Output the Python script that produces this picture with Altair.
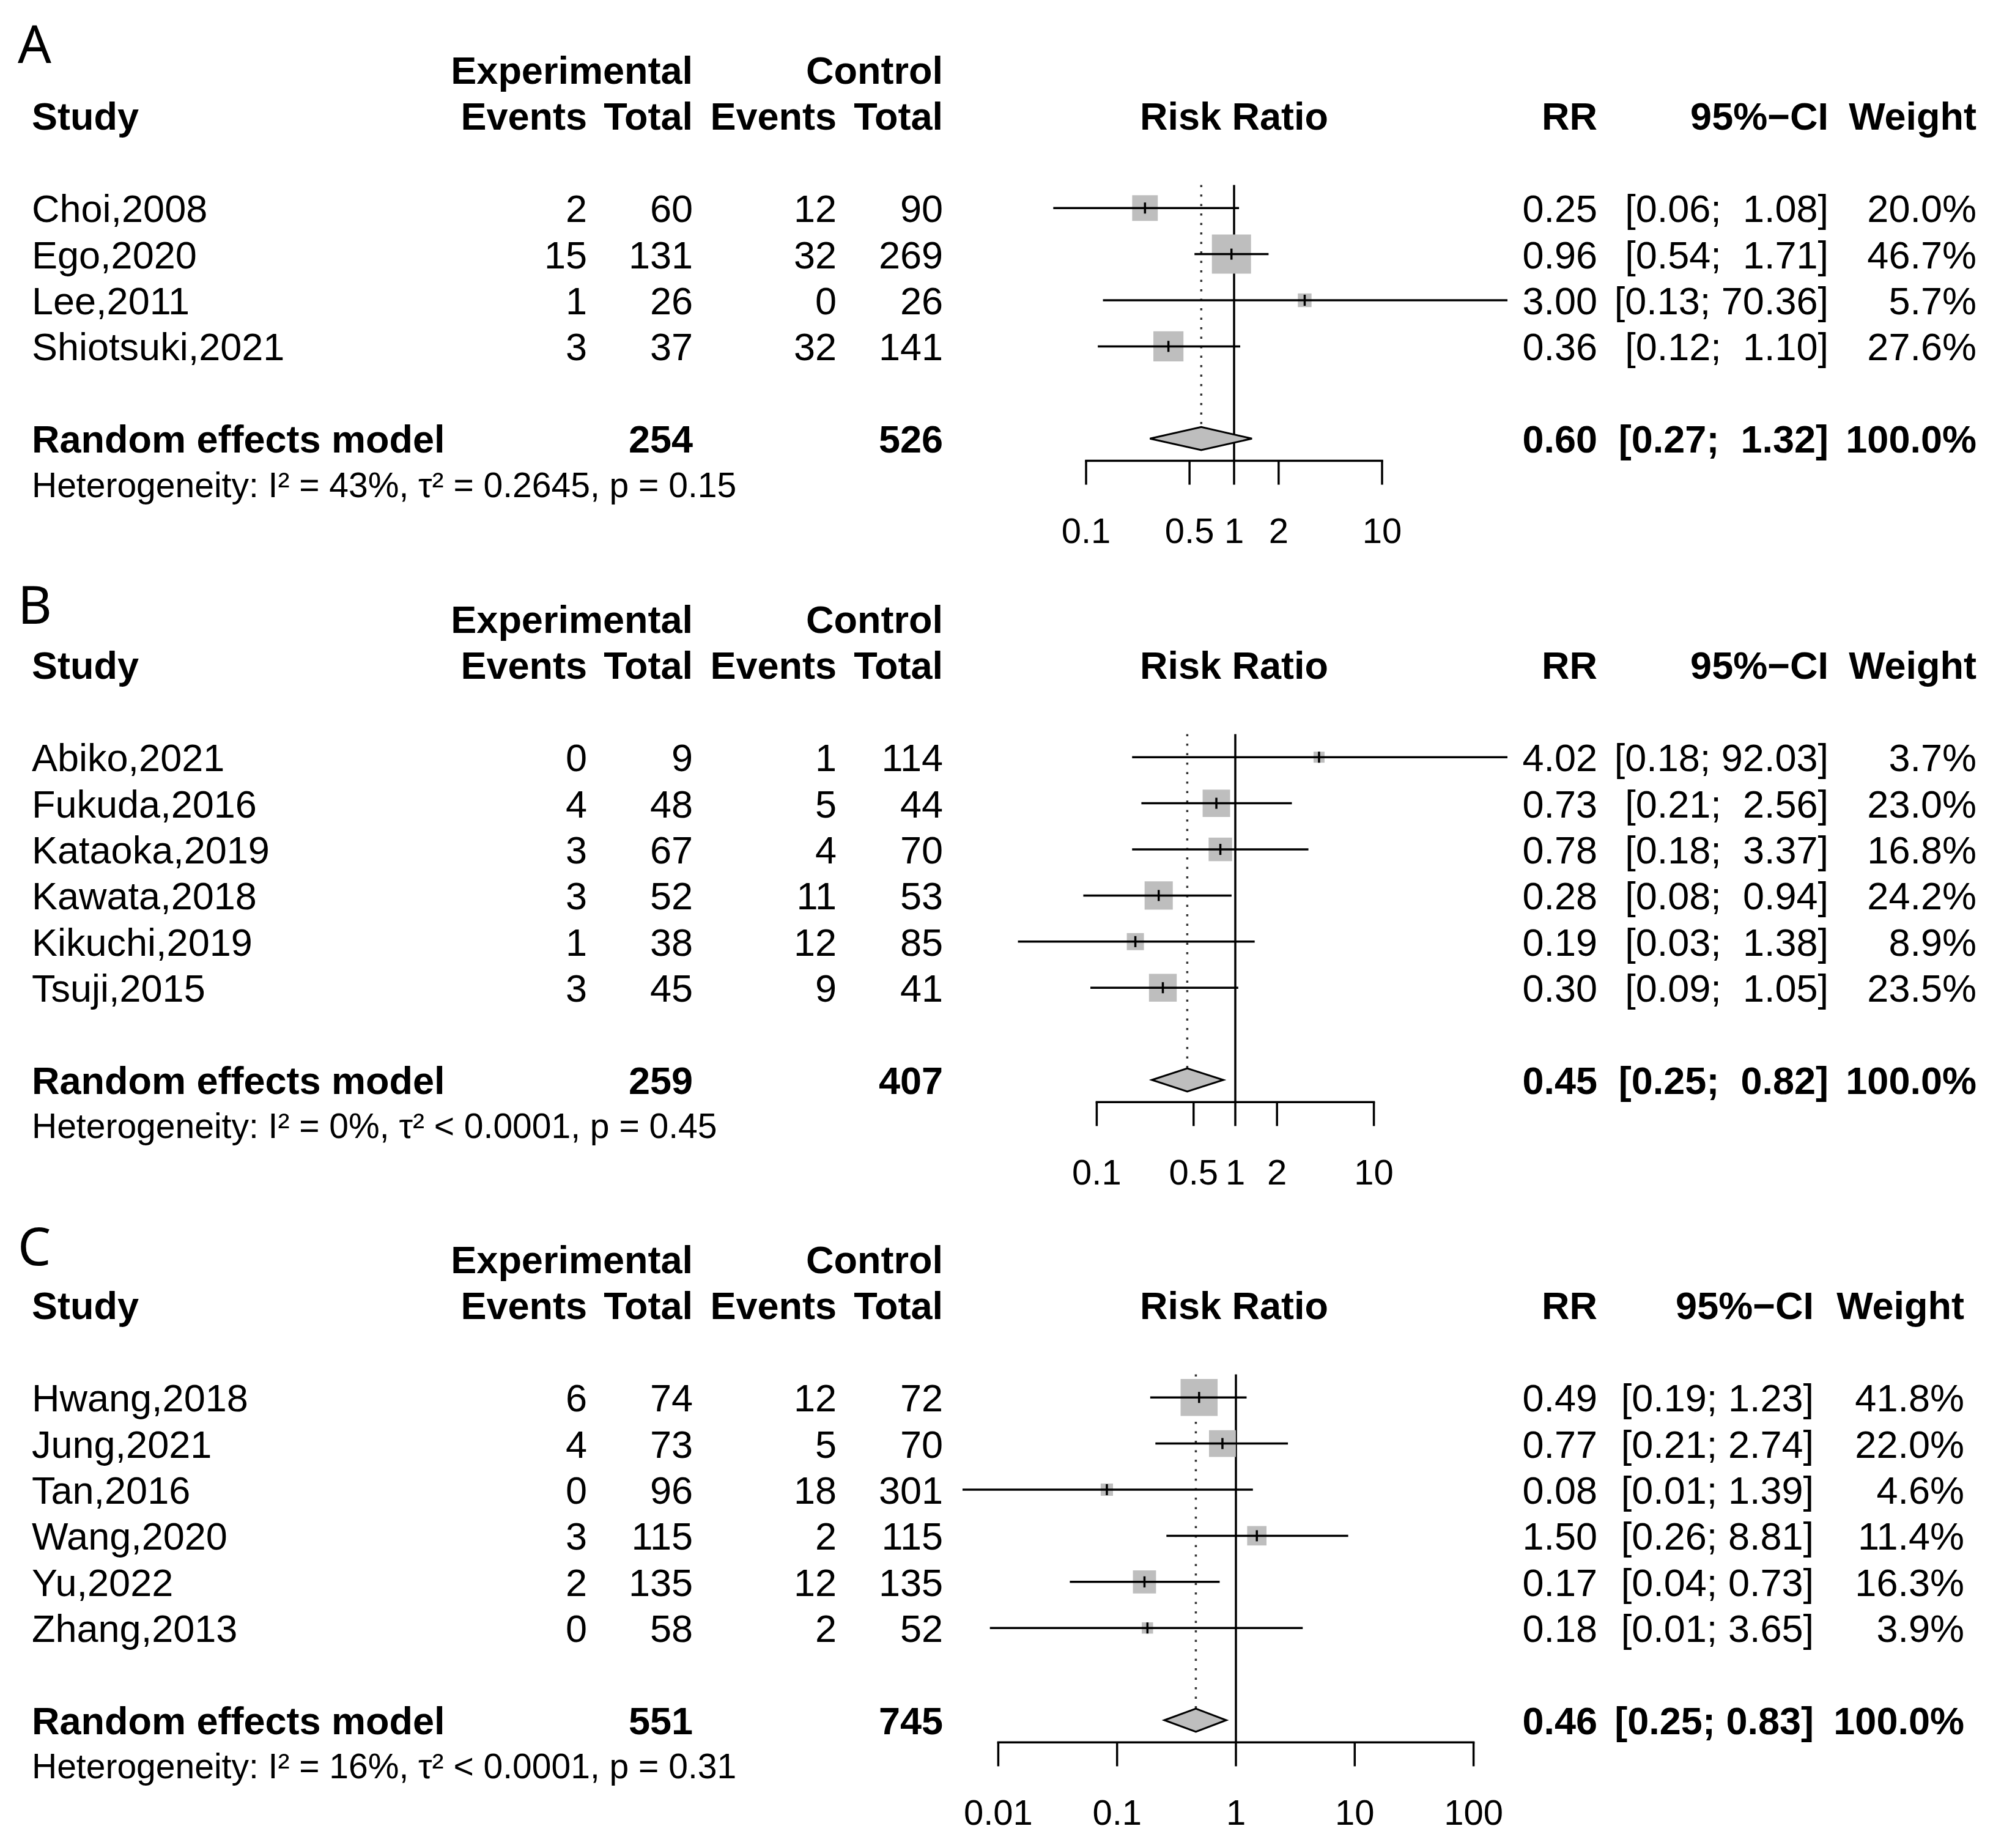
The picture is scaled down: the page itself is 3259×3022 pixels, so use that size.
import altair as alt
import pandas as pd

FONT = "Liberation Sans"
LABEL_FONT = "Noto Sans"

# ---------------- Panel A data ----------------
A_study = ["Choi,2008", "Ego,2020", "Lee,2011", "Shiotsuki,2021"]
A_exp_events = [2, 15, 1, 3]
A_exp_total = [60, 131, 26, 37]
A_ctl_events = [12, 32, 0, 32]
A_ctl_total = [90, 269, 26, 141]
A_rr = [0.25, 0.96, 3.00, 0.36]
A_lo = [0.06, 0.54, 0.13, 0.12]
A_hi = [1.08, 1.71, 70.36, 1.10]
A_weight = [20.0, 46.7, 5.7, 27.6]
A_rr_txt = ["0.25", "0.96", "3.00", "0.36"]
A_ci_txt = ["[0.06;  1.08]", "[0.54;  1.71]", "[0.13; 70.36]", "[0.12;  1.10]"]
A_w_txt = ["20.0%", "46.7%", "5.7%", "27.6%"]
A_totals = ["254", "526"]
A_summary = [0.60, 0.27, 1.32]
A_summary_txt = ["0.60", "[0.27;  1.32]", "100.0%"]
A_het = "Heterogeneity: I² = 43%, τ² = 0.2645, p = 0.15"
A_ticks = [0.1, 0.5, 1, 2, 10]
A_tick_labels = ["0.1", "0.5", "1", "2", "10"]

# ---------------- Panel B data ----------------
B_study = ["Abiko,2021", "Fukuda,2016", "Kataoka,2019", "Kawata,2018", "Kikuchi,2019", "Tsuji,2015"]
B_exp_events = [0, 4, 3, 3, 1, 3]
B_exp_total = [9, 48, 67, 52, 38, 45]
B_ctl_events = [1, 5, 4, 11, 12, 9]
B_ctl_total = [114, 44, 70, 53, 85, 41]
B_rr = [4.02, 0.73, 0.78, 0.28, 0.19, 0.30]
B_lo = [0.18, 0.21, 0.18, 0.08, 0.027, 0.09]
B_hi = [92.03, 2.56, 3.37, 0.94, 1.38, 1.05]
B_weight = [3.7, 23.0, 16.8, 24.2, 8.9, 23.5]
B_rr_txt = ["4.02", "0.73", "0.78", "0.28", "0.19", "0.30"]
B_ci_txt = ["[0.18; 92.03]", "[0.21;  2.56]", "[0.18;  3.37]", "[0.08;  0.94]", "[0.03;  1.38]", "[0.09;  1.05]"]
B_w_txt = ["3.7%", "23.0%", "16.8%", "24.2%", "8.9%", "23.5%"]
B_totals = ["259", "407"]
B_summary = [0.45, 0.25, 0.82]
B_summary_txt = ["0.45", "[0.25;  0.82]", "100.0%"]
B_het = "Heterogeneity: I² = 0%, τ² < 0.0001, p = 0.45"
B_ticks = [0.1, 0.5, 1, 2, 10]
B_tick_labels = ["0.1", "0.5", "1", "2", "10"]

# ---------------- Panel C data ----------------
C_study = ["Hwang,2018", "Jung,2021", "Tan,2016", "Wang,2020", "Yu,2022", "Zhang,2013"]
C_exp_events = [6, 4, 0, 3, 2, 0]
C_exp_total = [74, 73, 96, 115, 135, 58]
C_ctl_events = [12, 5, 18, 2, 12, 2]
C_ctl_total = [72, 70, 301, 115, 135, 52]
C_rr = [0.49, 0.77, 0.082, 1.50, 0.17, 0.18]
C_lo = [0.19, 0.21, 0.005, 0.26, 0.04, 0.0085]
C_hi = [1.23, 2.74, 1.39, 8.81, 0.73, 3.65]
C_weight = [41.8, 22.0, 4.6, 11.4, 16.3, 3.9]
C_rr_txt = ["0.49", "0.77", "0.08", "1.50", "0.17", "0.18"]
C_ci_txt = ["[0.19; 1.23]", "[0.21; 2.74]", "[0.01; 1.39]", "[0.26; 8.81]", "[0.04; 0.73]", "[0.01; 3.65]"]
C_w_txt = ["41.8%", "22.0%", "4.6%", "11.4%", "16.3%", "3.9%"]
C_totals = ["551", "745"]
C_summary = [0.46, 0.25, 0.83]
C_summary_txt = ["0.46", "[0.25; 0.83]", "100.0%"]
C_het = "Heterogeneity: I² = 16%, τ² < 0.0001, p = 0.31"
C_ticks = [0.01, 0.1, 1, 10, 100]
C_tick_labels = ["0.01", "0.1", "1", "10", "100"]

HEAD_TOP = ["Experimental", "Control"]
HEAD = ["Study", "Events", "Total", "Events", "Total", "Risk Ratio", "RR", "95%\u2212CI", "Weight"]
SUMMARY_LABEL = "Random effects model"

# ---------------- layout constants ----------------
W = 3243
RH = 75.4
Y0 = 106
FS = 63
FS_SMALL = 57
FS_TICK = 58
SQ_MAX = 4096
GRAY = "#BEBEBE"


def nb(s):
    return s.replace(" ", "\u00a0")


def T(df, field, xpage, align, ysc, size=FS, bold=False, font=FONT, yfield="row"):
    return alt.Chart(df).mark_text(
        align=align, baseline="middle", dy=round(0.058 * size), font=font,
        fontSize=size, fontWeight="bold" if bold else "normal", color="black"
    ).encode(
        x=alt.value(xpage - 8),
        y=alt.Y(f"{yfield}:Q", scale=ysc, axis=None),
        text=alt.Text(f"{field}:N"),
    )


def panel(label, study, ee, et, ce, ct, rr, lo, hi, wt, rr_txt, ci_txt, w_txt,
          totals, summary, summary_txt, het, ticks, tick_labels,
          H, one_x, ppd, label_off, ci_r, w_r):
    n = len(study)
    ysc = alt.Scale(domain=[-Y0 / RH, (H - Y0) / RH], range=[0, H])
    one_l = one_x - 8
    xsc = alt.Scale(type="log", domain=[10 ** ((0 - one_l) / ppd), 10 ** ((W - one_l) / ppd)],
                    range=[0, W], nice=False)
    r_sum = n + 4
    r_axis = n + 4.48

    rows = pd.DataFrame({
        "row": [3 + i for i in range(n)],
        "study": study,
        "ee": [str(v) for v in ee], "et": [str(v) for v in et],
        "ce": [str(v) for v in ce], "ct": [str(v) for v in ct],
        "rr": rr, "lo": lo, "hi": hi, "w": wt,
        "rr_t": rr_txt, "ci_t": [nb(s) for s in ci_txt], "w_t": w_txt,
    })
    layers = []

    # reference line at RR = 1 and dotted summary line
    ref = pd.DataFrame({"x": [1.0], "y": [2.5], "y2": [r_axis]})
    layers.append(alt.Chart(ref).mark_rule(color="black", strokeWidth=3.5).encode(
        x=alt.X("x:Q", scale=xsc, axis=None), y=alt.Y("y:Q", scale=ysc, axis=None), y2="y2:Q"))
    dot = pd.DataFrame({"x": [summary[0]], "y": [2.5], "y2": [r_sum - 0.25]})
    layers.append(alt.Chart(dot).mark_rule(color="#333333", strokeWidth=3.5, strokeDash=[3.5, 12]).encode(
        x=alt.X("x:Q", scale=xsc, axis=None), y=alt.Y("y:Q", scale=ysc, axis=None), y2="y2:Q"))

    # squares
    layers.append(alt.Chart(rows).mark_square(color=GRAY, opacity=1, strokeWidth=0).encode(
        x=alt.X("rr:Q", scale=xsc, axis=None),
        y=alt.Y("row:Q", scale=ysc, axis=None),
        size=alt.Size("w:Q", scale=alt.Scale(domain=[0, max(wt)], range=[0, SQ_MAX]), legend=None)))
    # CI lines
    layers.append(alt.Chart(rows).mark_rule(color="black", strokeWidth=3.5).encode(
        x=alt.X("lo:Q", scale=xsc, axis=None), x2="hi:Q",
        y=alt.Y("row:Q", scale=ysc, axis=None)))
    # estimate ticks
    layers.append(alt.Chart(rows).transform_calculate(
        yt="datum.row - 0.12", yb="datum.row + 0.12").mark_rule(color="black", strokeWidth=3.5).encode(
        x=alt.X("rr:Q", scale=xsc, axis=None),
        y=alt.Y("yt:Q", scale=ysc, axis=None), y2="yb:Q"))

    # diamond
    dia = pd.DataFrame({"x": [summary[1], summary[0], summary[2]],
                        "y": [r_sum, r_sum - 0.25, r_sum],
                        "y2": [r_sum, r_sum + 0.25, r_sum]})
    layers.append(alt.Chart(dia).mark_area(orient="vertical", fill=GRAY, fillOpacity=1,
                                           stroke="black", strokeWidth=3).encode(
        x=alt.X("x:Q", scale=xsc, axis=None),
        y=alt.Y("y:Q", scale=ysc, axis=None, stack=False), y2="y2:Q"))

    # axis
    ax = pd.DataFrame({"x": [ticks[0]], "x2": [ticks[-1]], "y": [r_axis]})
    layers.append(alt.Chart(ax).mark_rule(color="black", strokeWidth=3.5, strokeCap="square").encode(
        x=alt.X("x:Q", scale=xsc, axis=None), x2="x2:Q",
        y=alt.Y("y:Q", scale=ysc, axis=None)))
    tk = pd.DataFrame({"x": ticks, "lab": tick_labels, "y": [r_axis] * len(ticks),
                       "y2": [n + 5.0] * len(ticks), "ly": [n + 6.0] * len(ticks)})
    layers.append(alt.Chart(tk).mark_rule(color="black", strokeWidth=3.5).encode(
        x=alt.X("x:Q", scale=xsc, axis=None),
        y=alt.Y("y:Q", scale=ysc, axis=None), y2="y2:Q"))
    layers.append(alt.Chart(tk).mark_text(align="center", baseline="middle", dy=round(0.058 * FS_TICK),
                                          font=FONT, fontSize=FS_TICK, color="black").encode(
        x=alt.X("x:Q", scale=xsc, axis=None),
        y=alt.Y("ly:Q", scale=ysc, axis=None), text="lab:N"))

    # panel label
    lab = pd.DataFrame({"row": [label_off], "t": [label]})
    layers.append(T(lab, "t", 29, "left", ysc, size=86, font=LABEL_FONT))

    # header rows
    top = pd.DataFrame({"row": [0, 0], "t": HEAD_TOP})
    layers.append(T(top.iloc[[0]], "t", 1133, "right", ysc, bold=True))
    layers.append(T(top.iloc[[1]], "t", 1542, "right", ysc, bold=True))
    hd = pd.DataFrame({"row": [1] * len(HEAD), "t": HEAD})
    head_pos = [(52, "left"), (960, "right"), (1133, "right"), (1368, "right"), (1542, "right"),
                (2018, "center"), (2612, "right"), (ci_r, "right"), (w_r, "right")]
    for i, (xp, al) in enumerate(head_pos):
        layers.append(T(hd.iloc[[i]], "t", xp, al, ysc, bold=True))

    # study rows
    layers.append(T(rows, "study", 52, "left", ysc))
    layers.append(T(rows, "ee", 960, "right", ysc))
    layers.append(T(rows, "et", 1133, "right", ysc))
    layers.append(T(rows, "ce", 1368, "right", ysc))
    layers.append(T(rows, "ct", 1542, "right", ysc))
    layers.append(T(rows, "rr_t", 2612, "right", ysc))
    layers.append(T(rows, "ci_t", ci_r, "right", ysc))
    layers.append(T(rows, "w_t", w_r, "right", ysc))

    # summary row
    sm = pd.DataFrame({"row": [r_sum], "lab": [SUMMARY_LABEL], "te": [totals[0]], "tc": [totals[1]],
                       "rr": [summary_txt[0]], "ci": [nb(summary_txt[1])], "w": [summary_txt[2]]})
    layers.append(T(sm, "lab", 52, "left", ysc, bold=True))
    layers.append(T(sm, "te", 1133, "right", ysc, bold=True))
    layers.append(T(sm, "tc", 1542, "right", ysc, bold=True))
    layers.append(T(sm, "rr", 2612, "right", ysc, bold=True))
    layers.append(T(sm, "ci", ci_r, "right", ysc, bold=True))
    layers.append(T(sm, "w", w_r, "right", ysc, bold=True))

    # heterogeneity
    hdf = pd.DataFrame({"row": [r_sum + 1], "t": [het]})
    layers.append(T(hdf, "t", 52, "left", ysc, size=FS_SMALL))

    return alt.layer(*layers).properties(width=W, height=H)


pA = panel("A", A_study, A_exp_events, A_exp_total, A_ctl_events, A_ctl_total,
           A_rr, A_lo, A_hi, A_weight, A_rr_txt, A_ci_txt, A_w_txt, A_totals,
           A_summary, A_summary_txt, A_het, A_ticks, A_tick_labels,
           H=898, one_x=2018, ppd=242.0, label_off=-0.56, ci_r=2990, w_r=3232)
pB = panel("B", B_study, B_exp_events, B_exp_total, B_ctl_events, B_ctl_total,
           B_rr, B_lo, B_hi, B_weight, B_rr_txt, B_ci_txt, B_w_txt, B_totals,
           B_summary, B_summary_txt, B_het, B_ticks, B_tick_labels,
           H=1047, one_x=2020, ppd=226.6, label_off=-0.30, ci_r=2990, w_r=3232)
pC = panel("C", C_study, C_exp_events, C_exp_total, C_ctl_events, C_ctl_total,
           C_rr, C_lo, C_hi, C_weight, C_rr_txt, C_ci_txt, C_w_txt, C_totals,
           C_summary, C_summary_txt, C_het, C_ticks, C_tick_labels,
           H=1050, one_x=2021, ppd=194.3, label_off=-0.28, ci_r=2966, w_r=3212)

chart = alt.vconcat(pA, pB, pC, spacing=0).properties(padding=0).configure_view(strokeWidth=0)
chart.save("out.html", embed_options={"renderer": "svg", "actions": False})
